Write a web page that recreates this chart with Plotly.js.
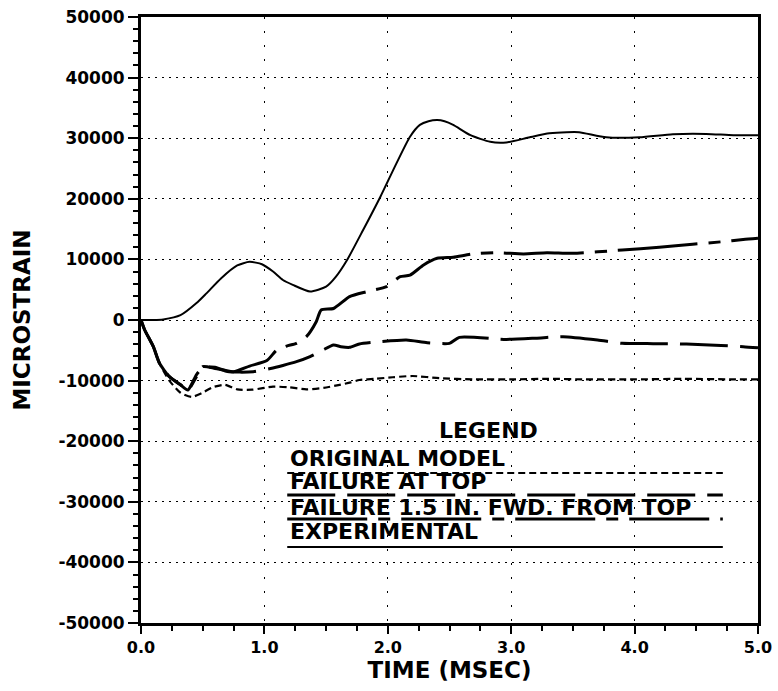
<!DOCTYPE html>
<html>
<head>
<meta charset="utf-8">
<script src="https://cdn.plot.ly/plotly-3.0.1.min.js"></script>
<style>
html,body{margin:0;padding:0;background:#fff;}
#chart{width:778px;height:691px;}
</style>
</head>
<body>
<div id="chart"></div>
<script>
// ---- data ----
const seriesNames = ["ORIGINAL MODEL", "FAILURE AT TOP", "FAILURE 1.5 IN. FWD. FROM TOP", "EXPERIMENTAL"];

const origT = [0, 0.03, 0.10, 0.15, 0.23, 0.32, 0.41, 0.49, 0.58, 0.68, 0.78, 0.90, 1.07, 1.20, 1.34, 1.48, 1.61, 1.70, 1.77, 1.90, 2.04, 2.20, 2.42, 2.70, 3.00, 3.30, 3.60, 4.00, 4.40, 4.80, 5.00];
const origV = [0, -1650, -4400, -7150, -10000, -12000, -12700, -12100, -11100, -10700, -11450, -11500, -11000, -11100, -11450, -11200, -10700, -10300, -9900, -9700, -9450, -9240, -9600, -9800, -9800, -9700, -9800, -9800, -9700, -9800, -9800];

const topT = [0, 0.03, 0.10, 0.15, 0.23, 0.32, 0.38, 0.45, 0.50, 0.60, 0.70, 0.80, 0.91, 1.05, 1.15, 1.26, 1.37, 1.47, 1.56, 1.62, 1.69, 1.77, 1.94, 2.15, 2.32, 2.50, 2.58, 2.96, 3.20, 3.42, 3.70, 3.90, 4.15, 4.42, 4.70, 4.88, 5.00];
const topV = [0, -1650, -4400, -7150, -9350, -10700, -11550, -9000, -7900, -7800, -8500, -8600, -8530, -8000, -7500, -6880, -6050, -5000, -4130, -4400, -4510, -3960, -3580, -3300, -3740, -3850, -2860, -3200, -3000, -2750, -3300, -3850, -3900, -3960, -4200, -4400, -4600];

const fwdT = [0, 0.03, 0.10, 0.15, 0.23, 0.32, 0.38, 0.45, 0.50, 0.60, 0.68, 0.75, 0.88, 1.02, 1.10, 1.18, 1.26, 1.34, 1.42, 1.46, 1.56, 1.69, 1.83, 1.99, 2.10, 2.18, 2.29, 2.40, 2.53, 2.69, 2.88, 3.10, 3.29, 3.50, 3.90, 4.20, 4.47, 4.70, 4.88, 5.00];
const fwdV = [0, -1650, -4400, -7150, -9350, -10700, -11550, -9350, -7700, -8000, -8300, -8530, -7600, -6700, -4950, -4300, -3850, -2750, -280, 1650, 1900, 3850, 4670, 5500, 7150, 7400, 9080, 10180, 10350, 10900, 11100, 10900, 11100, 11000, 11550, 12000, 12500, 12900, 13300, 13500];

const expT = [0, 0.10, 0.18, 0.32, 0.45, 0.53, 0.65, 0.78, 0.88, 0.98, 1.07, 1.15, 1.23, 1.37, 1.50, 1.58, 1.67, 1.80, 1.94, 2.07, 2.18, 2.26, 2.33, 2.40, 2.46, 2.53, 2.67, 2.83, 2.96, 3.15, 3.31, 3.45, 3.55, 3.77, 4.04, 4.31, 4.58, 4.80, 5.00];
const expV = [0, 0, 100, 800, 2800, 4400, 6900, 9000, 9600, 9200, 8000, 6600, 5800, 4700, 5500, 7150, 9900, 14850, 20350, 25850, 30250, 32200, 32800, 33000, 32800, 32200, 30500, 29400, 29300, 30150, 30800, 31000, 31000, 30150, 30150, 30650, 30700, 30500, 30500];

const xTickVals = [0, 1, 2, 3, 4, 5];
const xTickText = ["0.0", "1.0", "2.0", "3.0", "4.0", "5.0"];
const yTickVals = [-50000, -40000, -30000, -20000, -10000, 0, 10000, 20000, 30000, 40000, 50000];
const yTickText = ["-50000", "-40000", "-30000", "-20000", "-10000", "0", "10000", "20000", "30000", "40000", "50000"];

// ---- styles ----
const FONT = "DejaVu Sans, Liberation Sans, Arial, sans-serif";
const styles = [
  {dash: "7px,4px", width: 2.2},
  {dash: "48px,12px", width: 3},
  {dash: "80px,11px,12px,11px", width: 3},
  {dash: "solid", width: 2}
];
const seriesT = [origT, topT, fwdT, expT];
const seriesV = [origV, topV, fwdV, expV];

const traces = seriesNames.map((name, i) => ({
  x: seriesT[i], y: seriesV[i], name: name, type: "scatter", mode: "lines",
  line: {color: "#000", width: styles[i].width, dash: styles[i].dash, shape: "spline", smoothing: 0.6},
  showlegend: false, hoverinfo: "skip"
}));

// legend drawn as text above sample lines (as in the reference)
const legTextX = 0.238;
const legLineX0 = 0.237, legLineX1 = 0.943;
const legTextY = [0.2715, 0.2330, 0.1914, 0.1518];
const legLineY = [0.2475, 0.2112, 0.1716, 0.1254];

const annotations = [{
  text: "<b>LEGEND</b>", xref: "paper", yref: "paper", x: 0.563, y: 0.3175,
  xanchor: "center", yanchor: "middle", showarrow: false,
  font: {family: FONT, size: 22, color: "#000"}
}];
const shapes = [];
seriesNames.forEach((name, i) => {
  annotations.push({
    text: "<b>" + name + "</b>", xref: "paper", yref: "paper", x: legTextX, y: legTextY[i],
    xanchor: "left", yanchor: "middle", showarrow: false,
    font: {family: FONT, size: 22, color: "#000"}
  });
  shapes.push({
    type: "line", xref: "paper", yref: "paper", x0: legLineX0, x1: legLineX1, y0: legLineY[i], y1: legLineY[i],
    line: {color: "#000", width: styles[i].width, dash: styles[i].dash}
  });
});

const layout = {
  width: 778, height: 691,
  margin: {l: 141, r: 20, t: 17, b: 68},
  paper_bgcolor: "#fff", plot_bgcolor: "#fff",
  font: {family: FONT, color: "#000"},
  xaxis: {
    range: [0, 5], tickmode: "array", tickvals: xTickVals, ticktext: xTickText,
    ticks: "outside", ticklen: 8, tickwidth: 2, tickcolor: "#000",
    showline: true, linewidth: 3, linecolor: "#000", mirror: true,
    showgrid: true, gridcolor: "#000", gridwidth: 1, griddash: "2px,12px",
    zeroline: false,
    tickfont: {family: FONT, size: 16, weight: "bold", color: "#000"},
    minor: {tickmode: "linear", tick0: 0, dtick: 0.25, ticks: "outside", ticklen: 5, tickwidth: 2, tickcolor: "#000", showgrid: false},
    title: {text: "<b>TIME (MSEC)</b>", font: {family: FONT, size: 23, color: "#000"}, standoff: 3}
  },
  yaxis: {
    range: [-50000, 50000], tickmode: "array", tickvals: yTickVals, ticktext: yTickText,
    ticks: "outside", ticklen: 10, tickwidth: 2, tickcolor: "#000",
    showline: true, linewidth: 3, linecolor: "#000", mirror: true,
    showgrid: true, gridcolor: "#000", gridwidth: 1, griddash: "2px,5px",
    zeroline: false,
    tickfont: {family: FONT, size: 17, weight: "bold", color: "#000"},
    minor: {tickmode: "linear", tick0: 0, dtick: 2000, ticks: "outside", ticklen: 5, tickwidth: 2, tickcolor: "#000", showgrid: false},
    title: {text: "<b>MICROSTRAIN</b>", font: {family: FONT, size: 23, color: "#000"}, standoff: 22}
  },
  annotations: annotations,
  shapes: shapes,
  showlegend: false
};

Plotly.newPlot("chart", traces, layout, {displayModeBar: false, staticPlot: true});
</script>
</body>
</html>
